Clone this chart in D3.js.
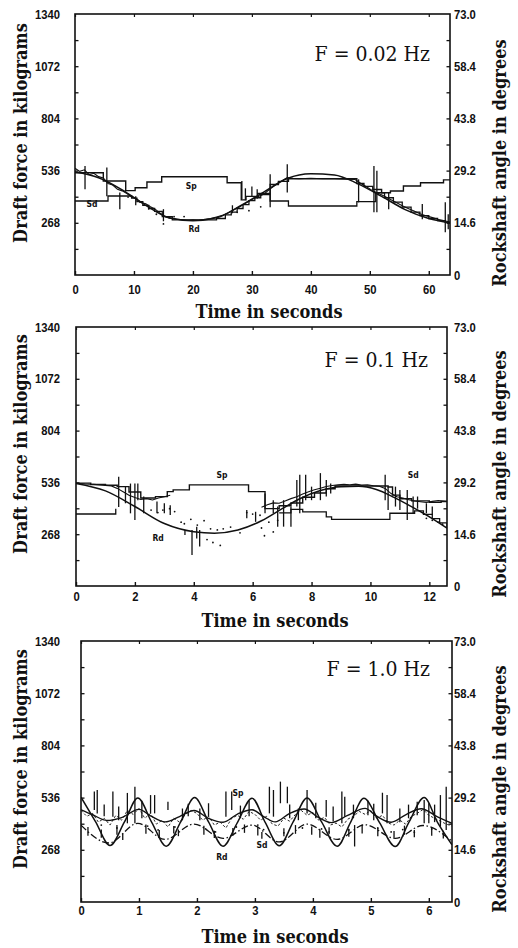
<!DOCTYPE html>
<html>
<head>
<meta charset="utf-8">
<script src="https://cdn.jsdelivr.net/npm/d3@7"></script>
<style>
  body { margin: 0; background: #fff; }
  svg { display: block; }
</style>
</head>
<body>
<svg id="chart" width="518" height="948"></svg>
<script>
// ---------- tick labels ----------
const kgTicks = [268, 536, 804, 1072, 1340];
const degTicks = [0, 14.6, 29.2, 43.8, 58.4, 73.0];
const timeTicksP1 = [0, 10, 20, 30, 40, 50, 60];
const timeTicksP2 = [0, 2, 4, 6, 8, 10, 12];
const timeTicksP3 = [0, 1, 2, 3, 4, 5, 6];
const freqLabels = ["F = 0.02 Hz", "F = 0.1 Hz", "F = 1.0 Hz"];

// ---------- F = 0.02 Hz ----------
// rockshaft angle (deg) : [time s, degrees]
const rdP1 = [[0,28.8],[4,27.2],[8,23.8],[12,19.5],[16,16.0],[20,15.2],[24,16.0],[28,19.3],[32,23.2],[36,27.0],[40,28.3],[44,28.0],[48,25.5],[52,22.0],[56,18.3],[60,15.8],[63.6,14.6]];
const spP1 = [[0,28.6],[4.8,26.3],[8.6,23.6],[10.2,24.4],[12.2,26.0],[14.7,27.5],[25.8,25.8],[28.2,21.0],[29.0,22.0],[31.0,22.8],[33.1,25.3],[34.5,26.2],[36.2,26.9],[47.8,25.6],[49.0,24.8],[50.5,23.9],[52.0,23.0],[53.5,23.5],[55.7,24.9],[58.6,25.8],[62.5,26.6],[63.6,26.6]];
const sdP1 = [[0,20.7],[5.6,22.1],[9.6,21.5],[10.5,20.5],[11.5,19.5],[12.5,18.6],[13.5,17.8],[14.8,16.3],[16.5,15.4],[24.0,15.8],[25.5,16.8],[26.5,17.6],[27.5,18.6],[28.5,19.7],[29.5,20.8],[30.5,21.6],[31.5,22.5],[33.1,20.7],[36.2,19.3],[47.8,20.5],[51.0,23.0],[52.5,21.6],[54.0,20.4],[55.5,19.0],[57.0,17.6],[58.5,16.6],[60.0,15.8],[61.5,15.2],[62.8,14.7],[63.6,14.7]];
// draft force (kg)
const forceP1 = [[0,548],[0.8,532],[1.6,540],[2.4,515],[3.2,522],[4.0,505],[4.8,498],[5.6,470],[6.4,462],[7.2,440],[8.0,432],[8.8,418],[9.6,400],[10.4,392],[11.2,372],[12.0,366],[12.8,350],[13.6,338],[14.4,318],[15.2,300],[16.0,292],[17.0,286],[18.0,284],[19.0,280],[20.0,283],[21.0,280],[22.0,286],[23.0,290],[24.0,298],[25.0,306],[26.0,320],[27.0,336],[28.0,352],[29.0,370],[30.0,388],[31.0,402],[32.0,414],[33.0,440],[34.0,462],[35.0,482],[36.0,500],[37.0,496],[38.0,494],[40.0,497],[42.0,494],[44.0,495],[46.0,492],[47.5,490],[48.5,470],[49.5,452],[50.5,432],[51.5,418],[52.5,404],[53.5,388],[54.5,372],[55.5,356],[56.5,342],[57.5,328],[58.5,314],[59.5,304],[60.5,296],[61.5,286],[62.5,280],[63.6,272]];
// force excursions : [time s, low kg, high kg]
const spikesP1 = [[1.7,440,559],[5.4,404,552],[7.6,338,424],[10.3,358,404],[15.0,276,338],[26.7,317,358],[28.3,389,482],[28.9,384,445],[30.0,400,455],[30.9,392,440],[33.1,348,517],[36.0,424,568],[48.1,373,491],[50.7,322,559],[51.2,322,535],[53.2,338,424],[58.9,286,364],[62.8,220,373],[63.3,235,312]];
const dotsP1 = [[9.0,400],[11.0,375],[12.5,340],[13.8,312],[15.0,262],[16.8,300],[18.5,300],[27.5,322],[29.5,330],[31.5,350]];
const tagsP1 = [["Sp",19.7,24.8],["Sd",2.9,19.8],["Rd",20.2,12.8]];

// ---------- F = 0.1 Hz ----------
const rdP2 = [[0,28.9],[1,26.8],[2,22.4],[3,17.6],[4,15.3],[4.7,14.9],[5.5,15.8],[6.3,18.4],[7,21.8],[7.6,24.6],[8.3,26.9],[9,28.0],[9.6,28.1],[10.2,27.2],[10.8,25.0],[11.5,21.9],[12.1,19.0],[12.6,16.3]];
const spP2 = [[0,29.0],[0.5,28.6],[1.0,28.4],[1.4,28.0],[1.8,26.5],[2.2,24.8],[2.7,25.2],[3.1,26.6],[3.3,27.1],[3.85,28.5],[5.86,26.6],[6.42,21.8],[6.9,22.6],[7.3,23.4],[7.7,25.0],[8.1,26.2],[8.5,27.4],[8.8,28.2],[10.6,27.9],[10.75,25.6],[11.0,24.6],[11.4,24.0],[12.0,23.6],[12.4,23.8],[12.6,23.8]];
const sdP2 = [[0,20.3],[1.35,21.8],[2.0,null],[6.9,20.6],[7.3,21.6],[7.7,20.9],[8.5,19.5],[8.68,18.8],[10.66,20.5],[11.5,21.2],[11.8,20.2],[12.1,19.0],[12.35,17.8],[12.6,16.6]];
const forceP2 = [[0,532],[0.3,528],[0.6,526],[0.9,522],[1.2,518],[1.4,505],[1.6,488],[1.8,470],[2.0,458],[2.2,448],[2.4,452],[2.6,445],[2.8,455],[3.0,462],[3.2,470],[3.4,null],[6.3,408],[6.5,420],[6.7,430],[6.9,428],[7.1,440],[7.3,452],[7.5,462],[7.7,476],[7.9,488],[8.1,498],[8.3,506],[8.5,515],[8.7,520],[8.9,523],[9.1,526],[9.3,524],[9.5,527],[9.7,522],[9.9,524],[10.1,519],[10.3,516],[10.5,505],[10.7,478],[10.9,462],[11.1,455],[11.3,446],[11.5,440],[11.7,436],[11.9,432],[12.1,438],[12.3,442],[12.6,438]];
const spikesP2 = [[1.45,409,565],[1.68,428,514],[1.85,376,530],[2.0,341,530],[2.1,444,530],[2.3,376,463],[2.75,376,437],[3.0,376,428],[3.2,367,418],[3.7,264,290],[3.94,160,290],[4.1,246,307],[4.2,204,290],[5.8,351,393],[6.1,332,384],[6.42,376,479],[6.7,376,444],[6.85,307,411],[7.05,307,444],[7.3,307,411],[7.5,411,549],[7.6,376,575],[7.8,444,575],[8.0,444,514],[8.3,444,584],[8.5,463,549],[8.65,479,530],[10.5,444,575],[10.6,393,514],[10.85,411,514],[11.0,393,497],[11.25,341,497],[11.45,376,463],[11.6,400,463],[11.9,376,428],[12.1,367,411]];
const dotsP2 = [[2.55,393],[2.78,380],[2.95,393],[3.18,400],[3.35,385],[3.57,330],[3.68,322],[3.9,345],[4.12,315],[4.35,338],[4.57,296],[4.8,290],[5.0,296],[5.25,305],[5.57,275],[5.8,380],[6.0,372],[6.25,366],[4.45,240],[4.65,225],[4.9,210],[6.3,300],[6.4,260],[6.55,330],[6.7,280],[6.85,340],[11.9,350],[12.1,340],[12.3,330],[12.45,320]];
const tagsP2 = [["Sp",4.96,31.3],["Rd",2.79,13.5],["Sd",11.45,31.3]];

// ---------- F = 1.0 Hz ----------
const rdP3 = [[0,29.3],[0.25,22.5],[0.5,15.8],[0.75,22.4],[0.98,29.1],[1.22,22.3],[1.47,15.6],[1.72,22.4],[1.96,29.2],[2.2,22.4],[2.45,15.6],[2.7,22.3],[2.95,29.0],[3.18,22.2],[3.42,15.7],[3.66,22.4],[3.9,29.1],[4.15,22.4],[4.42,15.6],[4.65,22.3],[4.88,29.0],[5.15,22.2],[5.42,15.5],[5.66,22.4],[5.92,29.2],[6.15,22.3],[6.4,16.0]];
const spP3 = [[0,25.8],[0.2,24.4],[0.45,22.8],[0.7,23.6],[1.0,25.9],[1.2,24.1],[1.45,22.4],[1.7,23.9],[1.95,25.6],[2.2,23.4],[2.45,22.3],[2.7,24.6],[2.95,25.8],[3.15,23.9],[3.35,22.4],[3.6,24.8],[3.85,26.0],[4.1,23.6],[4.32,22.2],[4.6,24.2],[4.9,26.2],[5.1,24.0],[5.35,22.3],[5.6,24.4],[5.87,26.1],[6.15,23.8],[6.4,22.0]];
const sdP3 = [[0,21.5],[0.48,16.5],[0.98,22.0],[1.45,17.5],[1.95,21.8],[2.45,17.8],[2.95,21.5],[3.42,16.8],[3.9,21.8],[4.42,17.5],[4.9,21.6],[5.42,17.8],[5.9,21.4],[6.4,17.0]];
const forceP3 = [[0.0,470],[0.1,440],[0.2,455],[0.3,410],[0.4,430],[0.5,395],[0.6,445],[0.7,420],[0.8,470],[0.9,450],[1.0,480],[1.1,430],[1.2,455],[1.3,400],[1.4,420],[1.5,385],[1.6,430],[1.7,410],[1.8,450],[1.9,470],[2.0,455],[2.1,420],[2.2,440],[2.3,395],[2.4,410],[2.5,380],[2.6,430],[2.7,445],[2.8,425],[2.9,465],[3.0,450],[3.1,420],[3.2,440],[3.3,400],[3.4,390],[3.5,430],[3.6,415],[3.7,450],[3.8,470],[3.9,445],[4.0,460],[4.1,420],[4.2,435],[4.3,395],[4.4,405],[4.5,385],[4.6,425],[4.7,440],[4.8,465],[4.9,450],[5.0,470],[5.1,430],[5.2,445],[5.3,405],[5.4,395],[5.5,420],[5.6,400],[5.7,440],[5.8,455],[5.9,475],[6.0,445],[6.1,430],[6.2,415],[6.3,400],[6.4,390]];
const spikesP3 = [[0.23,472,567],[0.28,455,575],[0.4,440,500],[0.55,438,567],[0.65,420,490],[0.8,404,560],[0.93,404,592],[1.05,430,520],[1.2,455,549],[1.27,455,549],[1.5,472,515],[1.75,420,480],[1.85,440,505],[2.05,420,480],[2.2,438,507],[2.5,438,567],[2.6,472,567],[2.75,430,495],[2.9,440,520],[3.25,455,592],[3.32,438,575],[3.44,507,618],[3.56,507,592],[3.6,430,500],[3.75,420,480],[3.9,455,575],[4.05,430,510],[4.23,438,524],[4.35,415,490],[4.5,404,567],[4.55,438,541],[4.7,430,500],[4.72,285,395],[4.95,445,520],[5.05,420,505],[5.2,455,561],[5.28,404,549],[5.5,410,480],[5.65,430,500],[5.8,445,515],[5.92,404,524],[6.0,404,507],[6.1,410,500],[6.2,387,549],[6.3,370,592],
  [0.12,340,385],[0.35,330,372],[0.62,345,395],[0.72,318,352],[1.12,350,398],[1.35,330,370],[1.6,352,390],[1.68,338,372],[2.12,345,392],[2.3,328,366],[2.62,340,380],[2.82,355,398],[3.05,342,386],[3.12,325,360],[3.5,338,378],[3.7,350,395],[3.98,345,388],[4.12,330,372],[4.28,348,384],[4.62,335,376],[4.85,352,398],[5.12,338,380],[5.4,330,365],[5.58,345,392],[5.75,332,370],[6.05,340,384],[6.25,326,366]];
const dotsP3 = [[0.35,395],[0.62,380],[1.15,390],[1.33,370],[1.62,385],[2.15,375],[2.32,360],[2.68,385],[3.05,395],[3.15,372],[3.5,355],[3.82,380],[4.15,375],[4.28,360],[4.62,370],[5.12,380],[5.35,360],[5.55,372],[5.75,358],[6.05,375]];
const tagsP3 = [["Sp",2.71,30.5],["Rd",2.43,12.6],["Sd",3.12,15.9]];

// ---------- layout of the three stacked panels ----------
const panels = [
  { x0: 75, x1: 450, y0: 14,  y1: 275, tMax: 63.6, ticks: timeTicksP1, pad: 10, fx: 430, fy: 61,  tx: 269, ty: 318, ly: 133, ry: 163,
    rd: rdP1, sp: spP1, sd: sdP1, force: forceP1, spikes: spikesP1, dots: dotsP1, tags: tagsP1, smooth: false },
  { x0: 76, x1: 447, y0: 327, y1: 586, tMax: 12.6, ticks: timeTicksP2, pad: 6,  fx: 428, fy: 367, tx: 275, ty: 627, ly: 444, ry: 474,
    rd: rdP2, sp: spP2, sd: sdP2, force: forceP2, spikes: spikesP2, dots: dotsP2, tags: tagsP2, smooth: false },
  { x0: 81, x1: 452, y0: 641, y1: 902, tMax: 6.4,  ticks: timeTicksP3, pad: 4,  fx: 430, fy: 676, tx: 275, ty: 943, ly: 759, ry: 789,
    rd: rdP3, sp: spP3, sd: sdP3, force: forceP3, spikes: spikesP3, dots: dotsP3, tags: tagsP3, smooth: true }
];

const svg = d3.select("#chart");
svg.append("rect").attr("width", 518).attr("height", 948).attr("fill", "#fff");

const INK = "#111";
const SQX = 0.9;                // slight horizontal squeeze of the tick digits
const tickFont = g => g.selectAll("text")
  .attr("font-family", "'Liberation Sans', Arial, sans-serif")
  .attr("font-weight", "bold")
  .attr("font-size", 12.5)
  .attr("fill", INK);
const serif = "'DejaVu Serif Condensed', 'DejaVu Serif', serif";

panels.forEach((p, i) => {
  const x = d3.scaleLinear().domain([0, p.tMax]).range([p.x0, p.x1]);
  const yKg = d3.scaleLinear().domain([0, 1340]).range([p.y1, p.y0]);
  const yDeg = d3.scaleLinear().domain([0, 73]).range([p.y1, p.y0]);
  const g = svg.append("g");

  const clipId = "clip" + i;
  g.append("clipPath").attr("id", clipId)
    .append("rect").attr("x", p.x0).attr("y", p.y0)
    .attr("width", p.x1 - p.x0).attr("height", p.y1 - p.y0);
  const plot = g.append("g").attr("clip-path", `url(#${clipId})`);

  const lineDeg = curve => d3.line().defined(d => d[1] != null)
    .x(d => x(d[0])).y(d => yDeg(d[1])).curve(curve);
  const lineKg = d3.line().defined(d => d[1] != null)
    .x(d => x(d[0])).y(d => yKg(d[1]));

  // measured draft force trace
  plot.append("path").datum(p.force)
    .attr("d", lineKg)
    .attr("fill", "none").attr("stroke", INK)
    .attr("stroke-width", p.smooth ? 0.9 : 1.1)
    .attr("stroke-dasharray", p.smooth ? "2.5,2" : null);

  // force excursions
  plot.append("g").selectAll("line").data(p.spikes).join("line")
    .attr("x1", d => x(d[0])).attr("x2", d => x(d[0]))
    .attr("y1", d => yKg(d[1])).attr("y2", d => yKg(d[2]))
    .attr("stroke", INK).attr("stroke-width", 1.3);

  // scattered samples
  plot.append("g").selectAll("circle").data(p.dots).join("circle")
    .attr("cx", d => x(d[0])).attr("cy", d => yKg(d[1]))
    .attr("r", 0.9).attr("fill", INK);

  // Sd and Sp
  const stepCurve = p.smooth ? d3.curveMonotoneX : d3.curveStepAfter;
  plot.append("path").datum(p.sd)
    .attr("d", lineDeg(stepCurve))
    .attr("fill", "none").attr("stroke", INK).attr("stroke-width", 1.3)
    .attr("stroke-dasharray", p.smooth ? "7,2.5,1.5,2.5" : null);
  plot.append("path").datum(p.sp)
    .attr("d", lineDeg(stepCurve))
    .attr("fill", "none").attr("stroke", INK).attr("stroke-width", 1.4);

  // Rd
  plot.append("path").datum(p.rd)
    .attr("d", lineDeg(d3.curveMonotoneX))
    .attr("fill", "none").attr("stroke", INK).attr("stroke-width", 1.5);

  // curve tags
  g.append("g").selectAll("text").data(p.tags).join("text")
    .attr("transform", d => `translate(${x(d[1])},${yDeg(d[2])}) scale(0.85,1)`)
    .attr("text-anchor", "middle").attr("dy", "0.35em")
    .attr("font-family", "'DejaVu Sans', sans-serif").attr("font-weight", "bold")
    .attr("font-size", 9).attr("fill", INK)
    .text(d => d[0]);

  // frame
  g.append("rect").attr("x", p.x0).attr("y", p.y0)
    .attr("width", p.x1 - p.x0).attr("height", p.y1 - p.y0)
    .attr("fill", "none").attr("stroke", INK).attr("stroke-width", 1.6);

  // inward tick marks on all four sides
  g.append("g").attr("transform", `translate(0,${p.y1})`)
    .call(d3.axisBottom(x).tickValues(p.ticks).tickSize(-4).tickFormat(""))
    .call(a => a.select(".domain").remove())
    .call(a => a.selectAll("line").attr("stroke", INK).attr("stroke-width", 1.4));
  g.append("g").attr("transform", `translate(0,${p.y0})`)
    .call(d3.axisTop(x).tickValues(p.ticks).tickSize(-3).tickFormat(""))
    .call(a => a.select(".domain").remove())
    .call(a => a.selectAll("line").attr("stroke", INK).attr("stroke-width", 1.2));
  g.append("g").attr("transform", `translate(${p.x0},0)`)
    .call(d3.axisLeft(yKg).tickValues(d3.range(134, 1340, 134)).tickSize(-3.5).tickFormat(""))
    .call(a => a.select(".domain").remove())
    .call(a => a.selectAll("line").attr("stroke", INK).attr("stroke-width", 1.3));
  g.append("g").attr("transform", `translate(${p.x1},0)`)
    .call(d3.axisRight(yDeg).tickValues(d3.range(7.3, 73, 7.3)).tickSize(-3.5).tickFormat(""))
    .call(a => a.select(".domain").remove())
    .call(a => a.selectAll("line").attr("stroke", INK).attr("stroke-width", 1.3));

  // tick labels (digits squeezed horizontally, still anchored on their ticks)
  g.append("g").attr("transform", `translate(0,${p.y1})`)
    .call(d3.axisBottom(x).tickValues(p.ticks).tickSize(0).tickPadding(p.pad).tickFormat(d3.format("d")))
    .call(a => a.select(".domain").remove())
    .call(tickFont)
    .call(a => a.selectAll("text").attr("transform", `scale(${SQX},1)`));
  const leftGap = p.x0 - 60;
  g.append("g").attr("transform", `translate(${p.x0},0)`)
    .call(d3.axisLeft(yKg).tickValues(kgTicks).tickSize(0).tickPadding(leftGap).tickFormat(d3.format("d")))
    .call(a => a.select(".domain").remove())
    .call(tickFont)
    .call(a => a.selectAll("text").attr("x", -leftGap / SQX).attr("transform", `scale(${SQX},1)`));
  const rightGap = 454 - p.x1;
  g.append("g").attr("transform", `translate(${p.x1},0)`)
    .call(d3.axisRight(yDeg).tickValues(degTicks).tickSize(0).tickPadding(rightGap)
      .tickFormat(d => d === 0 ? "0" : d.toFixed(1)))
    .call(a => a.select(".domain").remove())
    .call(tickFont)
    .call(a => a.selectAll("text").attr("x", rightGap / SQX).attr("transform", `scale(${SQX},1)`));

  // frequency note
  g.append("text").attr("x", p.fx).attr("y", p.fy)
    .attr("text-anchor", "end")
    .attr("font-family", serif).attr("font-size", 21).attr("fill", INK)
    .text(freqLabels[i]);

  // axis titles
  g.append("text").attr("x", p.tx).attr("y", p.ty)
    .attr("text-anchor", "middle")
    .attr("font-family", serif).attr("font-weight", "bold").attr("font-size", 18).attr("fill", INK)
    .text("Time in seconds");
  g.append("text").attr("transform", `translate(21,${p.ly}) rotate(-90)`)
    .attr("text-anchor", "middle").attr("dy", "0.35em")
    .attr("font-family", serif).attr("font-weight", "bold").attr("font-size", 18).attr("fill", INK)
    .text("Draft force in kilograms");
  g.append("text").attr("transform", `translate(500,${p.ry}) rotate(-90)`)
    .attr("text-anchor", "middle").attr("dy", "0.35em")
    .attr("font-family", serif).attr("font-weight", "bold").attr("font-size", 18).attr("fill", INK)
    .text("Rockshaft angle in degrees");
});
</script>
</body>
</html>
